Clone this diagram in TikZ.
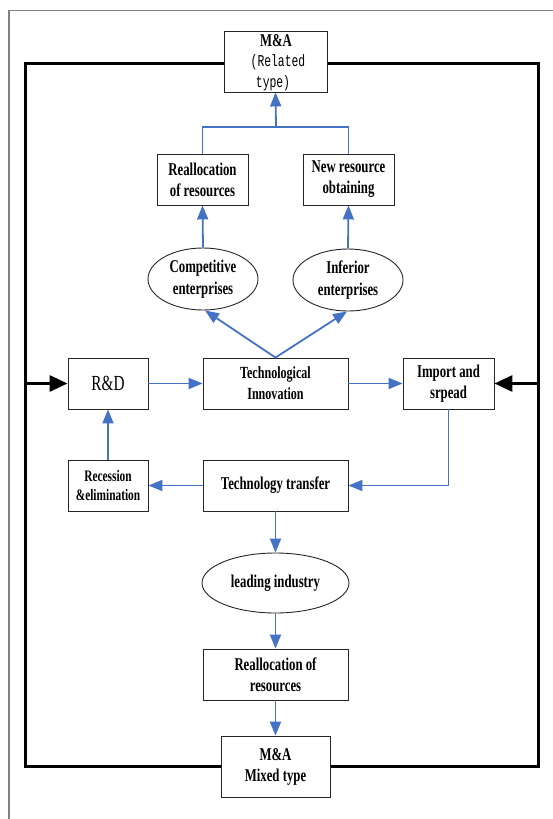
\documentclass[tikz,border=0pt]{standalone}
\usepackage{fontspec}
\setmainfont{Liberation Serif}[FakeStretch=0.71]
\newfontfamily\monofnt{Liberation Mono}[FakeStretch=0.69]
\usetikzlibrary{arrows.meta,shapes.geometric}
\definecolor{myblue}{HTML}{4472C4}
\begin{document}
\begin{tikzpicture}[x=1pt,y=-1pt,
  box/.style={draw=black!85,line width=0.9pt,fill=white,inner sep=1pt,align=center,font=\bfseries\fontsize{18}{21}\selectfont},
  oval/.style={ellipse,draw=black!85,line width=0.9pt,fill=white,inner sep=0pt,align=center,font=\bfseries\fontsize{18}{22}\selectfont},
  txt/.style={inner sep=0pt},
  bl/.style={draw=myblue,line width=1.8pt,-{Triangle[length=14pt,width=11pt]}},
  bline/.style={draw=myblue,line width=1.8pt},
  kl/.style={draw=black,line width=3pt},
  ka/.style={draw=black,line width=3pt,-{Triangle[length=18pt,width=16pt]}}]
\useasboundingbox (0,0) rectangle (553,819);
% gray frame
\draw[gray,line width=1.2pt] (9,819) -- (9,10.5) -- (553,10.5);
% black loop
\coordinate (tl) at (25,63);
\coordinate (tr) at (538,63);
\coordinate (bll) at (25,766);
\coordinate (brr) at (538,766);
\coordinate (lm) at (25,383.5);
\coordinate (rm) at (538,383.5);
\coordinate (tm) at (276,63);
\coordinate (bm) at (276,766);
\draw[kl] (tm) -- (tl) -- (bll) -- (bm);
\draw[kl] (tm) -- (tr) -- (brr) -- (bm);
% nodes
\node[box,minimum width=103pt,minimum height=61pt] (ma) at (275.5,61.5) {};
\node[txt,font=\bfseries\fontsize{18}{18}\selectfont] (matitle) at (276,41) {M\&A};
\node[txt,font=\monofnt\fontsize{16.5}{16}\selectfont] (marel) at (278,62) {(Related};
\node[txt,font=\monofnt\fontsize{16.5}{16}\selectfont] (matype) at (273,83) {type)};
\node[box,minimum width=91pt,minimum height=51pt] (ra) at (202.5,179.5) {Reallocation\\of resources};
\node[box,minimum width=91pt,minimum height=51pt] (nr) at (348.5,179.5) {New resource\\obtaining};
\node[oval,minimum width=110pt,minimum height=62pt] (comp) at (203,279) {Competitive\\enterprises};
\node[oval,minimum width=110pt,minimum height=62pt] (inf) at (348,280) {Inferior\\enterprises};
\node[box,minimum width=80pt,minimum height=51pt,font=\fontsize{21.5}{22}\selectfont] (rd) at (108,383.5) {R\&D};
\node[box,minimum width=145pt,minimum height=51pt,font=\bfseries\fontsize{17}{21}\selectfont] (ti) at (275.5,383.5) {Technological\\Innovation};
\node[box,minimum width=91pt,minimum height=51pt] (imp) at (448.5,383.5) {Import and\\srpead};
\node[box,minimum width=80pt,minimum height=51pt,font=\bfseries\fontsize{16}{19}\selectfont] (rec) at (108,485.5) {Recession\\\&elimination};
\node[box,minimum width=145pt,minimum height=51pt] (tt) at (275.5,485.5) {Technology transfer};
\node[oval,minimum width=147pt,minimum height=60pt] (li) at (275.5,583) {leading industry};
\node[box,minimum width=145pt,minimum height=51pt] (rb) at (275.5,674.5) {Reallocation of\\resources};
\node[box,minimum width=109pt,minimum height=61pt] (mx) at (275.5,766.5) {M\&A\\Mixed type};
% blue connectors top
\coordinate (hj) at (276,127);
\draw[bl] (hj) -- (ma.south);
\draw[bline] (ra.north) |- (hj);
\draw[bline] (nr.north) |- (hj);
\draw[bl] (comp.north) -- (ra.south);
\draw[bl] (inf.north) -- (nr.south);
\draw[bl] (ti.north) -- ([xshift=2pt]comp.south);
\draw[bl] (ti.north) -- ([xshift=-1pt]inf.south);
% middle
\draw[bl] (rd.east) -- (ti.west);
\draw[bl] (ti.east) -- (imp.west);
\draw[bl] (imp.south) |- (tt.east);
\draw[bl] (tt.west) -- (rec.east);
\draw[bl] (rec.north) -- (rd.south);
\draw[bl] (tt.south) -- (li.north);
\draw[bl] (li.south) -- (rb.north);
\draw[bl] (rb.south) -- (mx.north);
% black arrows
\draw[ka] (lm) -- (rd.west);
\draw[ka] (rm) -- (imp.east);
\end{tikzpicture}
\end{document}
